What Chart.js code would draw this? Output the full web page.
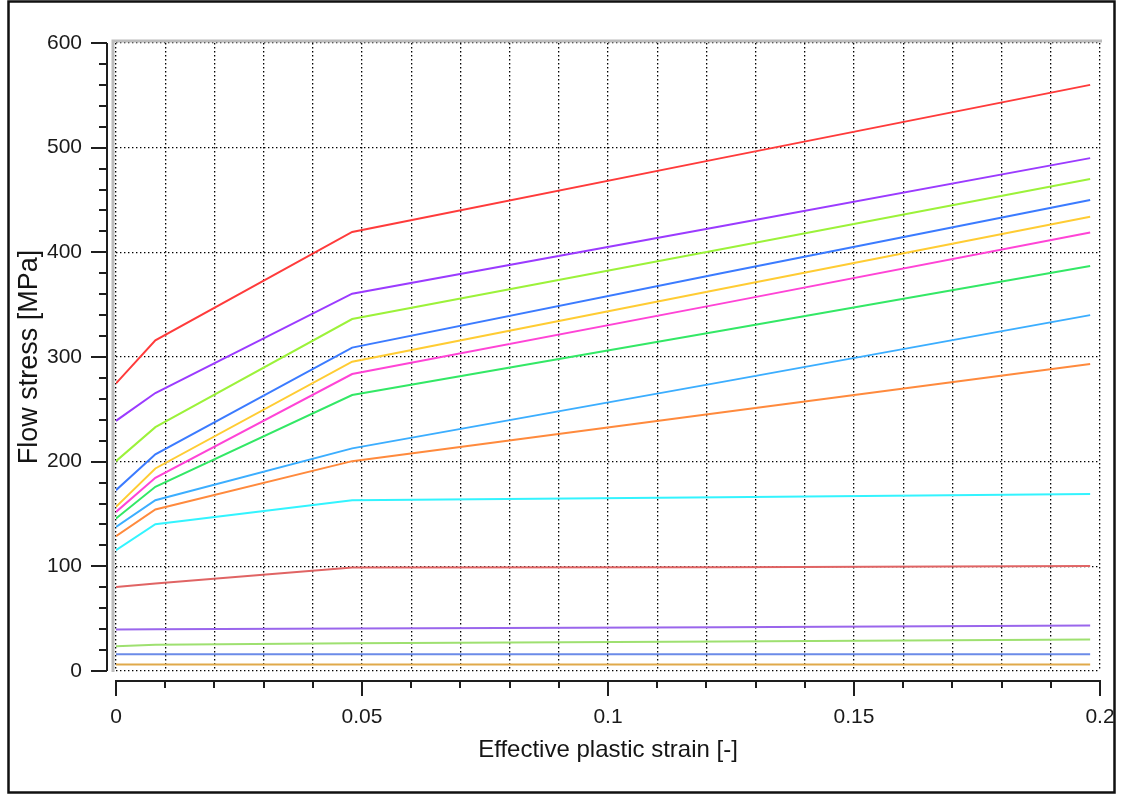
<!DOCTYPE html>
<html>
<head>
<meta charset="utf-8">
<style>
  html, body { margin: 0; padding: 0; background: #fff; }
  canvas { display: block; }
</style>
</head>
<body>
<canvas id="flow" width="1127" height="796"></canvas>

<script src="https://cdn.jsdelivr.net/npm/chart.js@4/dist/chart.umd.min.js"></script>
<script>
// Effective plastic strain [-], shared by every curve
var strain = [0, 0.008, 0.048, 0.123, 0.198];

// Flow stress [MPa] per curve, top to bottom
var sRed     = [274.8, 316.0, 419.5, 490.0, 560.0];
var sPurple  = [239.0, 265.6, 360.5, 425.0, 490.0];
var sLime    = [200.5, 233.0, 336.3, 403.0, 470.0];
var sBlue    = [172.8, 207.0, 309.0, 380.0, 450.0];
var sYellow  = [156.8, 193.5, 295.5, 365.0, 434.0];
var sMagenta = [152.0, 184.6, 283.7, 351.0, 419.0];
var sGreen   = [145.7, 176.0, 263.7, 325.0, 387.0];
var sSky     = [137.7, 163.2, 212.7, 276.0, 340.0];
var sOrange  = [128.8, 154.3, 200.5, 247.0, 293.3];
var sCyan    = [115.4, 140.3, 163.2, 166.0, 169.0];
var sDarkRed = [80.3, 83.5, 98.9, 99.2, 100.4];
var sViolet  = [39.6, 39.8, 40.6, 41.8, 43.4];
var sPale    = [23.6, 25.0, 26.5, 28.2, 30.0];
var sSteel   = [16.0, 16.0, 16.0, 16.0, 16.0];
var sAmber   = [6.1, 6.1, 6.1, 6.1, 6.1];

var curves = [
	[sRed, "#ff3b3b"],
	[sPurple, "#9b3bff"],
	[sLime, "#9cf23a"],
	[sBlue, "#3b7bff"],
	[sYellow, "#ffcc33"],
	[sMagenta, "#ff44d6"],
	[sGreen, "#33e866"],
	[sSky, "#3caeff"],
	[sOrange, "#ff8a3d"],
	[sCyan, "#33f4ff"],
	[sDarkRed, "#e06464"],
	[sViolet, "#9a66ec"],
	[sPale, "#9ee070"],
	[sSteel, "#6b8be8"],
	[sAmber, "#e0a94a"]
];

var datasets = curves.map(function(c){
	return {
		data: strain.map(function(x, i){ return {x: x, y: c[0][i]}; }),
		borderColor: c[1],
		borderWidth: 2,
		pointRadius: 0,
		tension: 0,
		fill: false
	};
});

// outer frame, grey plot edge and the detached axes with their tick marks
var frame = {
	id: "frame",
	beforeDraw: function(chart){
		var ctx = chart.ctx;
		ctx.save();
		ctx.fillStyle = "#fff";
		ctx.fillRect(0, 0, chart.width, chart.height);
		ctx.strokeStyle = "#111";
		ctx.lineWidth = 2.5;
		ctx.strokeRect(8.5, 1.5, 1106, 791);
		ctx.restore();
	},
	beforeDatasetsDraw: function(chart){
		var ctx = chart.ctx, a = chart.chartArea;
		ctx.save();
		ctx.strokeStyle = "#bcbcbc";
		ctx.lineWidth = 3;
		ctx.beginPath();
		ctx.moveTo(a.left - 3, a.bottom + 1);
		ctx.lineTo(a.left - 3, a.top - 2);
		ctx.lineTo(a.right + 2, a.top - 2);
		ctx.stroke();
		ctx.restore();
	},
	afterDraw: function(chart){
		var ctx = chart.ctx, a = chart.chartArea;
		var xs = chart.scales.x, ys = chart.scales.y;
		ctx.save();
		ctx.strokeStyle = "#1e1e1e";
		ctx.lineWidth = 2;

		// y axis
		var ax = a.left - 9;
		ctx.beginPath();
		ctx.moveTo(ax, ys.getPixelForValue(600));
		ctx.lineTo(ax, ys.getPixelForValue(0));
		ys.ticks.forEach(function(t){
			var py = Math.round(ys.getPixelForValue(t.value));
			var len = t.value % 100 === 0 ? 16 : 8;
			ctx.moveTo(ax, py);
			ctx.lineTo(ax - len, py);
		});
		ctx.stroke();

		// x axis
		var ay = a.bottom + 10;
		ctx.beginPath();
		ctx.moveTo(xs.getPixelForValue(0) - 1, ay);
		ctx.lineTo(xs.getPixelForValue(0.2) + 1, ay);
		xs.ticks.forEach(function(t){
			var px = Math.round(xs.getPixelForValue(t.value));
			var len = Math.round(t.value * 100) % 5 === 0 ? 15 : 7;
			ctx.moveTo(px, ay - 1);
			ctx.lineTo(px, ay + len);
		});
		ctx.stroke();
		ctx.restore();
	}
};

var dots = [1.4, 2.6];

new Chart(document.getElementById("flow"), {
	type: "line",
	data: { datasets: datasets },
	plugins: [frame],
	options: {
		responsive: false,
		animation: false,
		layout: { padding: { left: 0, top: 43, right: 27, bottom: 0 } },
		plugins: {
			legend: { display: false },
			tooltip: { enabled: false }
		},
		scales: {
			x: {
				type: "linear",
				min: 0,
				max: 0.2,
				afterFit: function(scale){
					scale.height = 125;
					scale.paddingLeft = 0;
					scale.paddingRight = 0;
				},
				grid: { color: "#000", lineWidth: 1.3, drawTicks: false },
				border: { display: false, dash: dots },
				ticks: {
					stepSize: 0.01,
					autoSkip: false,
					maxRotation: 0,
					padding: 36,
					color: "#1a1a1a",
					font: { family: "'Liberation Sans', Arial, sans-serif", size: 21, lineHeight: 1 },
					callback: function(v){ return Math.round(v * 100) % 5 === 0 ? String(v) : ""; }
				},
				title: {
					display: true,
					text: "Effective plastic strain [-]",
					color: "#151515",
					padding: { top: 0, bottom: 34 },
					font: { family: "'Liberation Sans', Arial, sans-serif", size: 24, lineHeight: 1 }
				}
			},
			y: {
				min: 0,
				max: 600,
				afterFit: function(scale){
					scale.width = 116;
					scale.paddingTop = 0;
					scale.paddingBottom = 0;
				},
				grid: {
					color: function(c){ return c.tick && c.tick.value % 100 === 0 ? "#000" : "rgba(0,0,0,0)"; },
					lineWidth: 1.3,
					drawTicks: false
				},
				border: { display: false, dash: dots },
				ticks: {
					stepSize: 20,
					autoSkip: false,
					padding: 34,
					color: "#1a1a1a",
					font: { family: "'Liberation Sans', Arial, sans-serif", size: 21, lineHeight: 1 },
					callback: function(v){ return v % 100 === 0 ? String(v) : ""; }
				},
				title: {
					display: true,
					text: "Flow stress [MPa]",
					color: "#151515",
					padding: { top: 16, bottom: 0 },
					font: { family: "'Liberation Sans', Arial, sans-serif", size: 27, lineHeight: 1 }
				}
			}
		}
	}
});
</script>
</body>
</html>
